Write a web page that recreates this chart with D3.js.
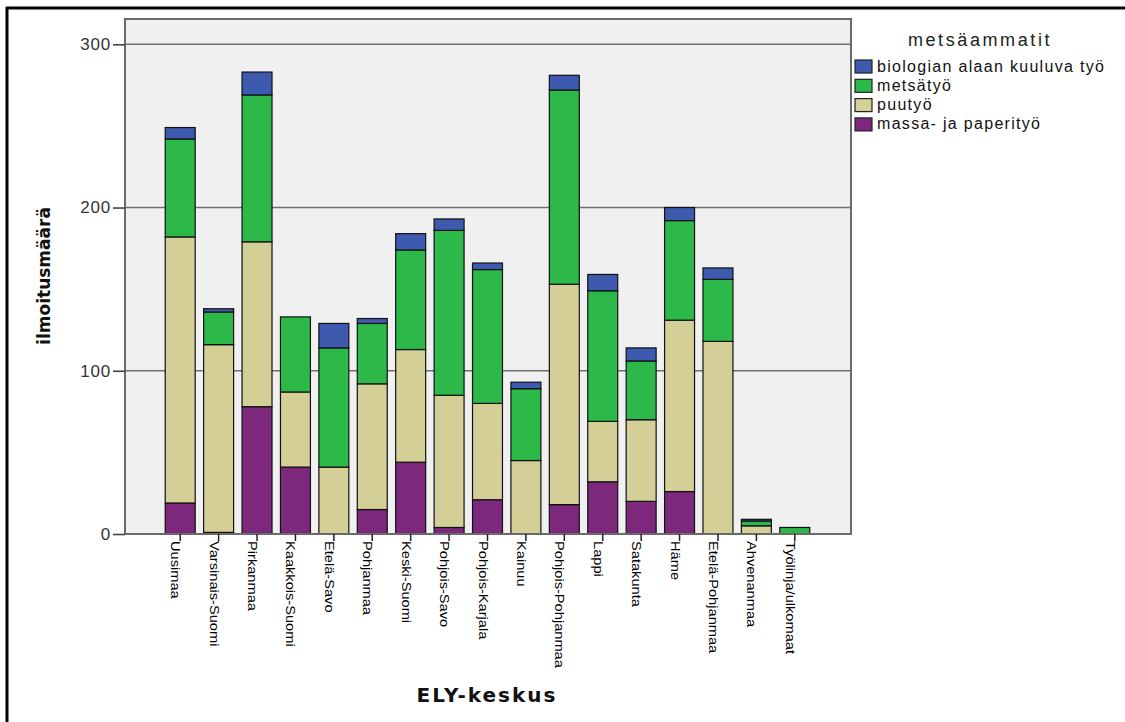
<!DOCTYPE html>
<html>
<head>
<meta charset="utf-8">
<script src="https://cdn.jsdelivr.net/npm/d3@7"></script>
<style>
  html, body { margin: 0; padding: 0; background: #ffffff; }
  svg { display: block; }
</style>
</head>
<body>
<svg id="chart" width="1125" height="722"></svg>
<script>
// ---- data ----
const categories = ["Uusimaa", "Varsinais-Suomi", "Pirkanmaa", "Kaakkois-Suomi", "Etelä-Savo",
  "Pohjanmaa", "Keski-Suomi", "Pohjois-Savo", "Pohjois-Karjala", "Kainuu", "Pohjois-Pohjanmaa",
  "Lappi", "Satakunta", "Häme", "Etelä-Pohjanmaa", "Ahvenanmaa", "Työlinja/ulkomaat"];
const massa  = [19, 1, 78, 41, 0, 15, 44, 4, 21, 0, 18, 32, 20, 26, 0, 0, 0];
const puu    = [163, 115, 101, 46, 41, 77, 69, 81, 59, 45, 135, 37, 50, 105, 118, 5, 0];
const metsa  = [60, 20, 90, 46, 73, 37, 61, 101, 82, 44, 119, 80, 36, 61, 38, 3, 4];
const bio    = [7, 2, 14, 0, 15, 3, 10, 7, 4, 4, 9, 10, 8, 8, 7, 1, 0];
const seriesNames = ["massa- ja paperityö", "puutyö", "metsätyö", "biologian alaan kuuluva työ"];
const seriesColors = ["#7c287d", "#d4ce97", "#2db84a", "#3d5aae"];
const yTicks = [0, 100, 200, 300];
const legendTitle = "metsäammatit";
const xTitle = "ELY-keskus";
const yTitle = "ilmoitusmäärä";

// ---- build table ----
const seriesValues = [massa, puu, metsa, bio];
const table = categories.map((c, i) => {
  const row = { cat: c };
  seriesNames.forEach((s, k) => row[s] = seriesValues[k][i]);
  return row;
});
const stacked = d3.stack().keys(seriesNames)(table);

const svg = d3.select("#chart");

// outer frame (top and left edges visible)
svg.append("line").attr("x1", 6).attr("x2", 1125).attr("y1", 8).attr("y2", 8)
  .attr("stroke", "#000").attr("stroke-width", 3);
svg.append("line").attr("x1", 7).attr("x2", 7).attr("y1", 7).attr("y2", 722)
  .attr("stroke", "#000").attr("stroke-width", 3);

// plot area
const plot = { left: 125, right: 851, top: 19, bottom: 534 };
const x = d3.scaleBand().domain(categories).range([161, 814]).paddingInner(0.22).paddingOuter(0.11);
const y = d3.scaleLinear().domain([0, 300]).range([534, 44.3]);

svg.append("rect")
  .attr("x", plot.left).attr("y", plot.top)
  .attr("width", plot.right - plot.left).attr("height", plot.bottom - plot.top)
  .attr("fill", "#f0f0f0");

// gridlines
svg.append("g").selectAll("line").data(yTicks.filter(t => t > 0)).join("line")
  .attr("x1", plot.left).attr("x2", plot.right)
  .attr("y1", d => y(d)).attr("y2", d => y(d))
  .attr("stroke", "#707070").attr("stroke-width", 1.6);

// bars
svg.append("g").selectAll("g").data(stacked).join("g")
  .attr("fill", (d, i) => seriesColors[i])
  .selectAll("rect").data(d => d.filter(s => s[1] - s[0] > 0)).join("rect")
  .attr("x", d => x(d.data.cat))
  .attr("width", x.bandwidth())
  .attr("y", d => y(d[1]))
  .attr("height", d => y(d[0]) - y(d[1]))
  .attr("stroke", "#111").attr("stroke-width", 1.2);

// plot frame
svg.append("rect")
  .attr("x", plot.left).attr("y", plot.top)
  .attr("width", plot.right - plot.left).attr("height", plot.bottom - plot.top)
  .attr("fill", "none").attr("stroke", "#6a6a6a").attr("stroke-width", 2);

// y axis
const yAxis = d3.axisLeft(y).tickValues(yTicks).tickSize(12).tickPadding(2).tickFormat(d3.format("d"));
const gy = svg.append("g").attr("transform", `translate(${plot.left},0)`).call(yAxis);
gy.select(".domain").remove();
gy.selectAll(".tick line").attr("stroke", "#444").attr("stroke-width", 1.6);
gy.selectAll(".tick text").attr("fill", "#333")
  .style("font-family", "'Liberation Sans', Arial, sans-serif")
  .style("font-size", "17px").style("letter-spacing", "0.8px");

// x axis
const xAxis = d3.axisBottom(x).tickSize(7).tickFormat("");
const gx = svg.append("g").attr("transform", `translate(0,${plot.bottom})`).call(xAxis);
gx.select(".domain").remove();
gx.selectAll(".tick line").attr("stroke", "#222").attr("stroke-width", 1.5);

svg.append("g").selectAll("text").data(categories).join("text")
  .attr("transform", d => `translate(${x(d) + x.bandwidth() / 2 - 9},541) rotate(90) scale(1.22,1)`)
  .attr("text-anchor", "start")
  .attr("fill", "#000")
  .style("font-family", "'Liberation Sans', Arial, sans-serif")
  .style("font-size", "12px")
  .text(d => d);

// axis titles
svg.append("text")
  .attr("transform", `translate(50,276) rotate(-90)`)
  .attr("text-anchor", "middle")
  .attr("fill", "#111")
  .style("font-family", "'DejaVu Sans', sans-serif")
  .style("font-weight", "bold").style("font-size", "17px")
  .text(yTitle);

svg.append("text")
  .attr("x", 487).attr("y", 702)
  .attr("text-anchor", "middle")
  .attr("fill", "#111")
  .style("font-family", "'DejaVu Sans', sans-serif")
  .style("font-weight", "bold").style("font-size", "20px").style("letter-spacing", "2px")
  .text(xTitle);

// legend
svg.append("text")
  .attr("x", 980).attr("y", 46)
  .attr("text-anchor", "middle")
  .attr("fill", "#222")
  .style("font-family", "'Liberation Sans', Arial, sans-serif")
  .style("font-size", "18px").style("letter-spacing", "2.6px")
  .text(legendTitle);

const legendOrder = [3, 2, 1, 0];
const lg = svg.append("g").selectAll("g").data(legendOrder).join("g")
  .attr("transform", (d, i) => `translate(855,${60 + i * 19.3})`);
lg.append("rect").attr("width", 17).attr("height", 13)
  .attr("fill", d => seriesColors[d]).attr("stroke", "#222").attr("stroke-width", 1.2);
lg.append("text").attr("x", 22).attr("y", 11.5)
  .attr("fill", "#111")
  .style("font-family", "'Liberation Sans', Arial, sans-serif")
  .style("font-size", "16px").style("letter-spacing", "1.3px")
  .text(d => seriesNames[d]);
</script>
</body>
</html>
